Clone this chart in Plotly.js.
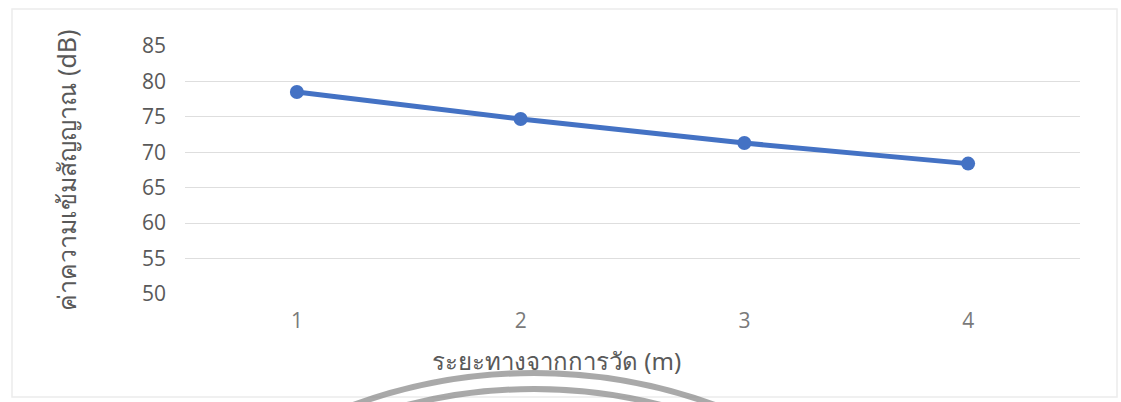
<!DOCTYPE html>
<html>
<head>
<meta charset="utf-8">
<script src="https://cdn.plot.ly/plotly-3.0.1.min.js"></script>
<style>
  html, body { margin: 0; padding: 0; background: #ffffff; }
  #chart { width: 1121px; height: 402px; }
</style>
</head>
<body>
<div id="chart"></div>
<script>
// Signal strength measured at each distance
const distances = ['1', '2', '3', '4'];
const signalDb = [78.5, 74.7, 71.3, 68.4];
const yTicks = [50, 55, 60, 65, 70, 75, 80, 85];

const xTitle = 'ระยะทางจากการวัด (m)';
const yTitle = 'ค่าความเข้มสัญญาณ (dB)';

// plot area in pixels, used to place the page-centred axis title and the stamp rings
const W = 1121, H = 402;
const L = 185, R = 41, T = 46, B = 108;
const pw = W - L - R, ph = H - T - B;
const px = x => (x - L) / pw;
const py = y => (H - B - y) / ph;

function ring(cx, cy, r, color, width) {
  return {
    type: 'circle', xref: 'paper', yref: 'paper', layer: 'above',
    x0: px(cx - r), x1: px(cx + r), y0: py(cy + r), y1: py(cy - r),
    line: { color: color, width: width }, fillcolor: 'rgba(0,0,0,0)'
  };
}

const trace = {
  type: 'scatter',
  mode: 'lines+markers',
  x: distances,
  y: signalDb,
  line: { color: '#4472C4', width: 5 },
  marker: { color: '#4472C4', size: 14 },
  hoverinfo: 'skip'
};

const layout = {
  width: W, height: H,
  margin: { l: L, r: R, t: T, b: B },
  paper_bgcolor: '#ffffff',
  plot_bgcolor: '#ffffff',
  showlegend: false,
  font: { family: '"Open Sans", "Noto Sans", sans-serif', color: '#595959' },
  xaxis: {
    type: 'category',
    range: [-0.5, 3.5],
    showgrid: false,
    zeroline: false,
    showline: false,
    ticks: '',
    ticklabelstandoff: 12,
    tickfont: { size: 21, color: '#7a7a7a' },
    fixedrange: true
  },
  yaxis: {
    range: [50, 85],
    tickvals: yTicks,
    ticktext: yTicks.map(String),
    showgrid: true,
    gridcolor: '#dedede',
    gridwidth: 1,
    zeroline: false,
    showline: false,
    ticks: '',
    ticklabelstandoff: 18,
    tickfont: { size: 21, color: '#595959' },
    title: {
      text: yTitle,
      standoff: 58,
      font: { size: 25, color: '#595959', family: '"Noto Sans", "Open Sans", sans-serif' }
    },
    fixedrange: true
  },
  annotations: [{
    text: xTitle,
    xref: 'paper', yref: 'paper',
    x: px(556), y: py(360),
    xanchor: 'center', yanchor: 'middle',
    showarrow: false,
    font: { size: 24, color: '#595959', family: '"Noto Sans", "Open Sans", sans-serif' }
  }],
  shapes: [
    // faint sheet edge
    { type: 'rect', xref: 'paper', yref: 'paper', layer: 'below',
      x0: px(12), x1: px(1117), y0: py(397), y1: py(9),
      line: { color: '#ececec', width: 1.5 }, fillcolor: 'rgba(0,0,0,0)' },
    // stamp rings along the bottom edge
    ring(534, 900, 527, 'rgba(140,140,140,0.75)', 6),
    ring(534, 900, 511, 'rgba(140,140,140,0.75)', 6)
  ]
};

Plotly.newPlot('chart', [trace], layout, { displayModeBar: false, staticPlot: true });
</script>
</body>
</html>
